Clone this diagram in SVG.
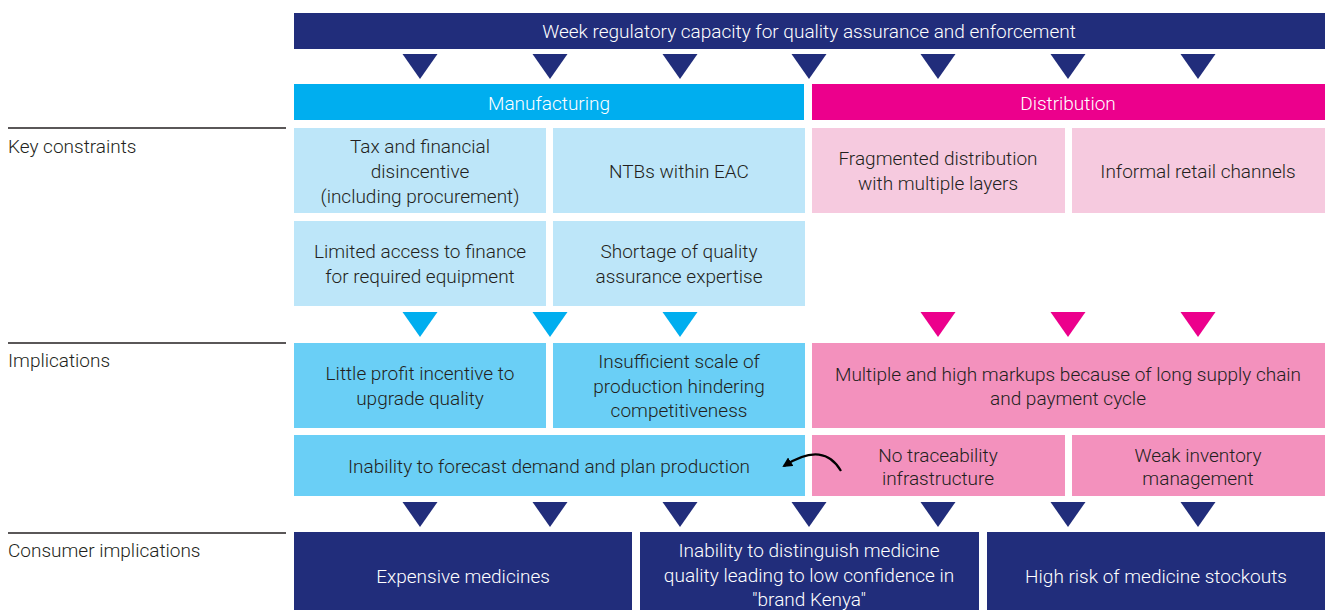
<svg xmlns="http://www.w3.org/2000/svg" width="1325" height="610" viewBox="0 0 1325 610">
<style>
text{font-family:Roboto,"Liberation Sans",sans-serif;font-size:19px;font-weight:300;text-anchor:middle}
.dk{fill:#231F20}
.wt{fill:#FFFFFF}
.lbl{text-anchor:start;fill:#231F20}
.navy{fill:#212D7B}
.cyan{fill:#00AEEF}
.mag{fill:#EC008C}
.lb{fill:#BDE6F9}
.mb{fill:#6ACFF6}
.lp{fill:#F6CADF}
.mp{fill:#F391BD}
.rule{stroke:#231F20;stroke-width:1.5}
</style>
<defs>
<path id="tri" d="M-17.5,0 L17.5,0 L0,25 Z"/>
<marker id="ah" markerWidth="10" markerHeight="10" refX="8" refY="5" orient="auto" markerUnits="userSpaceOnUse" viewBox="0 0 10 10">
<path d="M0,0 L10,5 L0,10 Z" fill="#000"/>
</marker>
</defs>

<g id="row-labels">
<line class="rule" x1="8" y1="128" x2="286" y2="128"/>
<text class="lbl" x="8" y="153">Key constraints</text>
<line class="rule" x1="8" y1="343" x2="286" y2="343"/>
<text class="lbl" x="8" y="367">Implications</text>
<line class="rule" x1="8" y1="533" x2="286" y2="533"/>
<text class="lbl" x="8" y="557">Consumer implications</text>
</g>

<g id="regulatory">
<rect class="navy" x="294" y="13" width="1031" height="36"/>
<text class="wt" x="809" y="38">Week regulatory capacity for quality assurance and enforcement</text>
</g>

<g id="manufacturing">
<rect class="cyan" x="294" y="84" width="510" height="36"/>
<text class="wt" x="549" y="110">Manufacturing</text>
</g>
<g id="distribution">
<rect class="mag" x="812" y="84" width="513" height="36"/>
<text class="wt" x="1068" y="110">Distribution</text>
</g>

<g id="tax">
<rect class="lb" x="294" y="128" width="252" height="85"/>
<text class="dk" x="420" y="153">Tax and financial</text>
<text class="dk" x="420" y="178">disincentive</text>
<text class="dk" x="420" y="203">(including procurement)</text>
</g>
<g id="ntbs">
<rect class="lb" x="553" y="128" width="252" height="85"/>
<text class="dk" x="679" y="178">NTBs within EAC</text>
</g>
<g id="fragmented">
<rect class="lp" x="812" y="128" width="253" height="85"/>
<text class="dk" x="938" y="165">Fragmented distribution</text>
<text class="dk" x="938" y="190">with multiple layers</text>
</g>
<g id="informal">
<rect class="lp" x="1072" y="128" width="253" height="85"/>
<text class="dk" x="1198" y="178">Informal retail channels</text>
</g>
<g id="finance">
<rect class="lb" x="294" y="221" width="252" height="85"/>
<text class="dk" x="420" y="258">Limited access to finance</text>
<text class="dk" x="420" y="283">for required equipment</text>
</g>
<g id="shortage">
<rect class="lb" x="553" y="221" width="252" height="85"/>
<text class="dk" x="679" y="258">Shortage of quality</text>
<text class="dk" x="679" y="283">assurance expertise</text>
</g>

<g id="profit">
<rect class="mb" x="294" y="343" width="252" height="85"/>
<text class="dk" x="420" y="380">Little profit incentive to</text>
<text class="dk" x="420" y="405">upgrade quality</text>
</g>
<g id="scale">
<rect class="mb" x="553" y="343" width="252" height="85"/>
<text class="dk" x="679" y="368">Insufficient scale of</text>
<text class="dk" x="679" y="393">production hindering</text>
<text class="dk" x="679" y="417">competitiveness</text>
</g>
<g id="markups">
<rect class="mp" x="812" y="343" width="513" height="85"/>
<text class="dk" x="1068" y="381">Multiple and high markups because of long supply chain</text>
<text class="dk" x="1068" y="405">and payment cycle</text>
</g>
<g id="forecast">
<rect class="mb" x="294" y="435" width="511" height="61"/>
<text class="dk" x="549" y="473">Inability to forecast demand and plan production</text>
</g>
<g id="traceability">
<rect class="mp" x="812" y="435" width="253" height="61"/>
<text class="dk" x="938" y="462">No traceability</text>
<text class="dk" x="938" y="485">infrastructure</text>
</g>
<g id="inventory">
<rect class="mp" x="1072" y="435" width="253" height="61"/>
<text class="dk" x="1198" y="462">Weak inventory</text>
<text class="dk" x="1198" y="485">management</text>
</g>

<g id="expensive">
<rect class="navy" x="294" y="532" width="338" height="78"/>
<text class="wt" x="463" y="583">Expensive medicines</text>
</g>
<g id="confidence">
<rect class="navy" x="640" y="532" width="339" height="78"/>
<text class="wt" x="809" y="557">Inability to distinguish medicine</text>
<text class="wt" x="809" y="582">quality leading to low confidence in</text>
<text class="wt" x="809" y="606">"brand Kenya"</text>
</g>
<g id="stockouts">
<rect class="navy" x="987" y="532" width="338" height="78"/>
<text class="wt" x="1156" y="583">High risk of medicine stockouts</text>
</g>

<g id="connectors">
<use href="#tri" class="navy" x="420" y="54"/>
<use href="#tri" class="navy" x="550" y="54"/>
<use href="#tri" class="navy" x="680" y="54"/>
<use href="#tri" class="navy" x="809" y="54"/>
<use href="#tri" class="navy" x="938" y="54"/>
<use href="#tri" class="navy" x="1068" y="54"/>
<use href="#tri" class="navy" x="1198" y="54"/>
<use href="#tri" class="cyan" x="420" y="312"/>
<use href="#tri" class="cyan" x="550" y="312"/>
<use href="#tri" class="cyan" x="680" y="312"/>
<use href="#tri" class="mag" x="938" y="312"/>
<use href="#tri" class="mag" x="1068" y="312"/>
<use href="#tri" class="mag" x="1198" y="312"/>
<use href="#tri" class="navy" x="420" y="502"/>
<use href="#tri" class="navy" x="550" y="502"/>
<use href="#tri" class="navy" x="680" y="502"/>
<use href="#tri" class="navy" x="809" y="502"/>
<use href="#tri" class="navy" x="938" y="502"/>
<use href="#tri" class="navy" x="1068" y="502"/>
<use href="#tri" class="navy" x="1198" y="502"/>
<path d="M841,471 C830,452 812,448 784,466" fill="none" stroke="#000" stroke-width="2.2" marker-end="url(#ah)"/>
</g>
</svg>
